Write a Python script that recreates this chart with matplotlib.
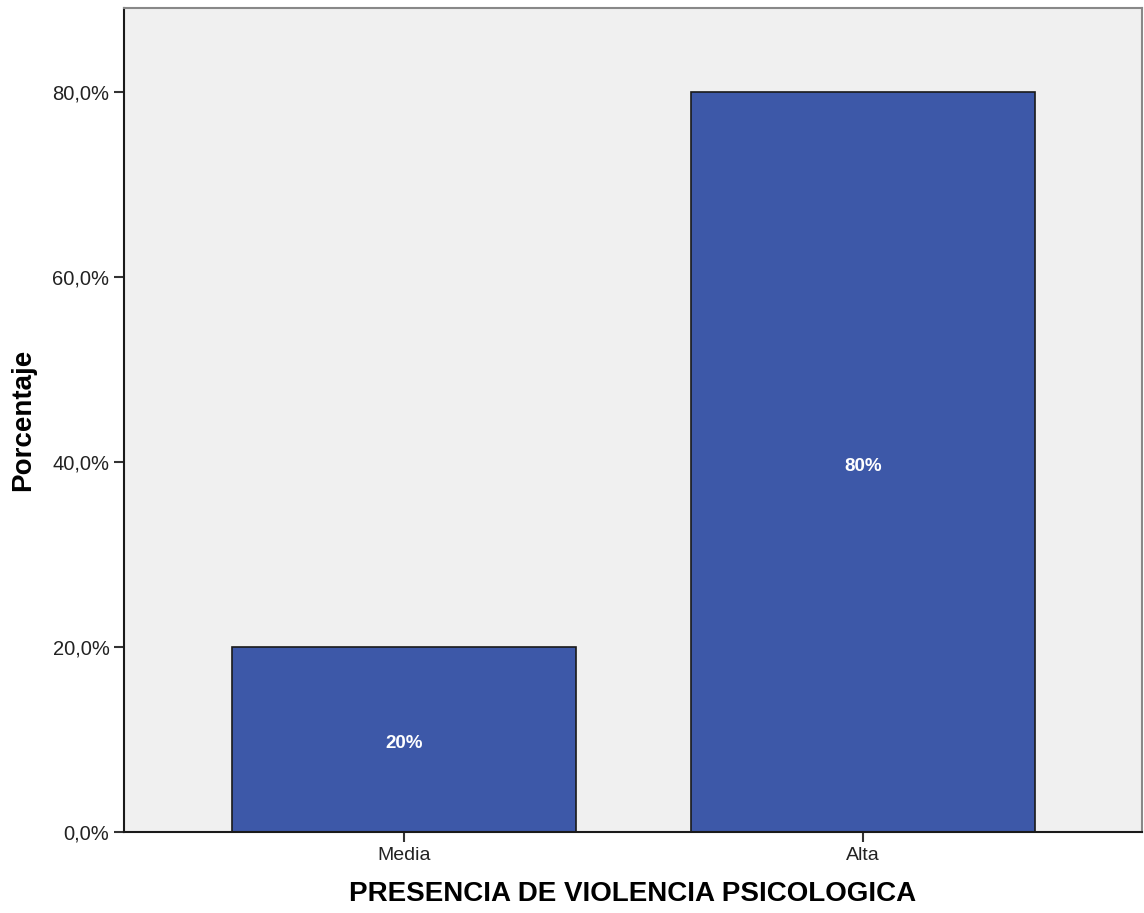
import matplotlib
matplotlib.use("Agg")
import matplotlib.pyplot as plt

categories = ["Media", "Alta"]
percentages = [20, 80]
bar_labels = ["20%", "80%"]
yticks = [0, 20, 40, 60, 80]
ytick_labels = ["0,0%", "20,0%", "40,0%", "60,0%", "80,0%"]

plt.rcParams["font.family"] = ["Liberation Sans", "DejaVu Sans"]

fig = plt.figure(figsize=(11.44, 9.13), dpi=100)
ax = fig.add_axes([124 / 1144, 81 / 913, 1018 / 1144, 824 / 913])
ax.set_facecolor("#f0f0f0")

x = list(range(len(categories)))
bars = ax.bar(x, percentages, width=0.75, color="#3d58a8", edgecolor="#1a1a1a", linewidth=1.2, zorder=2)

# labels sit a touch below bar middle, like the original
for b, lab in zip(bars, bar_labels):
    ax.annotate(lab, (b.get_x() + b.get_width() / 2, b.get_height() / 2),
                xytext=(0, -3), textcoords="offset points",
                ha="center", va="center", color="white", fontsize=13.5, fontweight="bold")

ax.set_xlim(-0.61, 1.608)
ax.set_ylim(0, 89.1)
ax.set_xticks(x)
ax.set_xticklabels(categories, fontsize=14, color="#222222")
ax.set_yticks(yticks)
ax.set_yticklabels(ytick_labels, fontsize=14.5, color="#222222")
ax.tick_params(axis="both", length=7, width=1.5, color="#333333")
ax.tick_params(axis="x", pad=4)

for side in ["left", "bottom"]:
    ax.spines[side].set_color("#1a1a1a")
    ax.spines[side].set_linewidth(1.5)
for side in ["top", "right"]:
    ax.spines[side].set_color("#888888")
    ax.spines[side].set_linewidth(1.5)

ax.set_ylabel("Porcentaje", fontsize=20, fontweight="bold", labelpad=12)
ax.set_xlabel("PRESENCIA DE VIOLENCIA PSICOLOGICA", fontsize=20, fontweight="bold", labelpad=12)

fig.savefig("out.png", dpi=100)
